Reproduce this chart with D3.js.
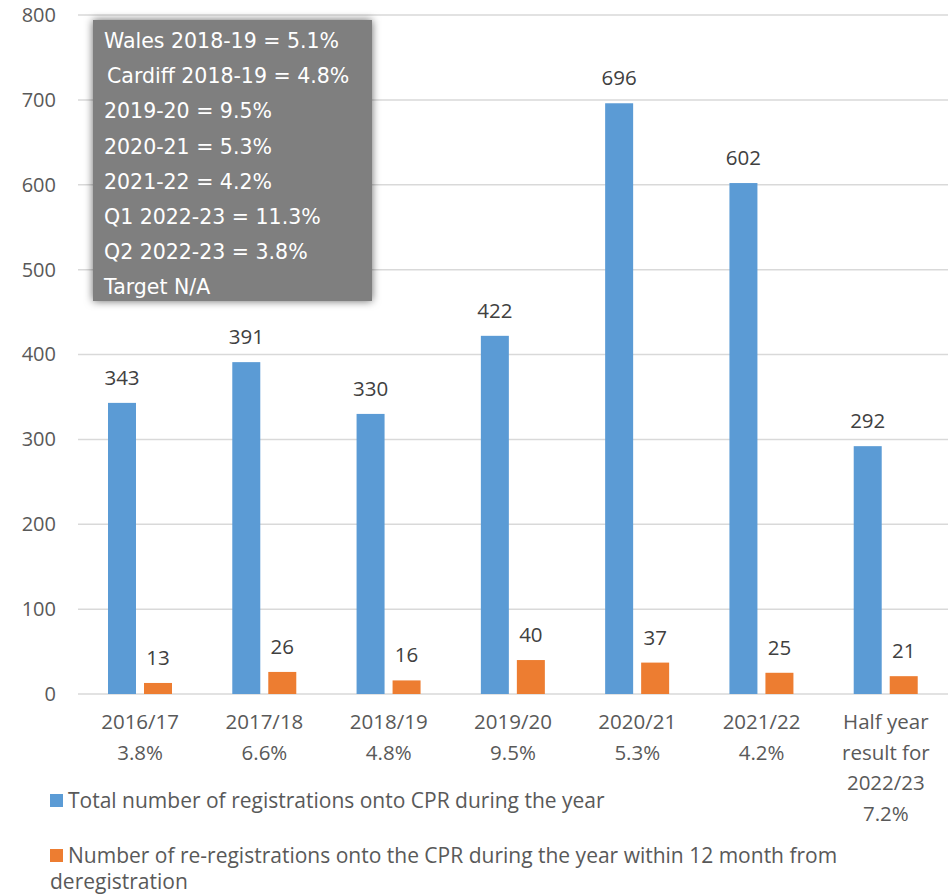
<!DOCTYPE html>
<html>
<head>
<meta charset="utf-8">
<script src="https://cdn.jsdelivr.net/npm/d3@7"></script>
<style>
  body { margin: 0; background: #fff; }
  text { font-family: "Open Sans", "Noto Sans", sans-serif; }
</style>
</head>
<body>
<script>
// chart data
var categories = [
  ["2016/17", "3.8%"],
  ["2017/18", "6.6%"],
  ["2018/19", "4.8%"],
  ["2019/20", "9.5%"],
  ["2020/21", "5.3%"],
  ["2021/22", "4.2%"],
  ["Half year", "result for", "2022/23", "7.2%"]
];
var totalRegs = [343, 391, 330, 422, 696, 602, 292];
var reRegs = [13, 26, 16, 40, 37, 25, 21];
var yTicks = [0, 100, 200, 300, 400, 500, 600, 700, 800];
var seriesNames = ["Total number of registrations onto CPR during the year",
  "Number of re-registrations onto the CPR during the year within 12 month from",
  "deregistration"];
var seriesColors = ["#5b9bd5", "#ed7d31"];
var boxLines = ["Wales 2018-19 = 5.1%", "Cardiff 2018-19 = 4.8%", "2019-20 = 9.5%",
  "2020-21 = 5.3%", "2021-22 = 4.2%", "Q1 2022-23 = 11.3%", "Q2 2022-23 = 3.8%", "Target N/A"];

var Chart = function() {
  this.width = 948;
  this.height = 894;
  this.plotLeft = 78;
  this.plotRight = 948;
  this.plotTop = 15;
  this.plotBottom = 694;
}

Chart.prototype.draw = function() {
  var self = this;
  var svg = d3.select("body").append("svg")
      .attr("width", this.width)
      .attr("height", this.height);

  var defs = svg.append("defs");
  var f = defs.append("filter").attr("id", "shadow")
      .attr("x", "-10%").attr("y", "-10%").attr("width", "120%").attr("height", "120%");
  f.append("feGaussianBlur").attr("in", "SourceAlpha").attr("stdDeviation", 4).attr("result", "blur");
  f.append("feFlood").attr("flood-color", "#000").attr("flood-opacity", 0.6);
  f.append("feComposite").attr("in2", "blur").attr("operator", "in");
  var fm = f.append("feMerge");
  fm.append("feMergeNode");
  fm.append("feMergeNode").attr("in", "SourceGraphic");

  var y = d3.scaleLinear().domain([0, 800]).range([this.plotBottom, this.plotTop]);
  var x = d3.scaleBand().domain(d3.range(categories.length)).range([this.plotLeft, this.plotRight]);
  var x1 = d3.scaleBand().domain([0, 1]).range([30, 94]).paddingInner(2 / 9);

  // gridlines
  svg.append("g").selectAll("line")
    .data(yTicks)
    .enter().append("line")
      .attr("x1", this.plotLeft).attr("x2", this.plotRight)
      .attr("y1", function(d) { return y(d); })
      .attr("y2", function(d) { return y(d); })
      .attr("stroke", "#d9d9d9")
      .attr("stroke-width", 1.5);

  // y axis labels
  var yAxis = svg.append("g")
      .attr("transform", "translate(" + (this.plotLeft - 22) + ",0)")
      .call(d3.axisLeft(y).tickValues(yTicks).tickSize(0).tickPadding(0));
  yAxis.select(".domain").remove();
  yAxis.selectAll("text")
      .attr("fill", "#595959")
      .style("font-family", "'Open Sans', sans-serif")
      .style("font-size", "20px");

  // bars + value labels
  [totalRegs, reRegs].forEach(function(vals, s) {
    var g = svg.append("g");
    g.selectAll("rect")
      .data(vals)
      .enter().append("rect")
        .attr("x", function(d, i) { return x(i) + x1(s); })
        .attr("y", function(d) { return y(d); })
        .attr("width", x1.bandwidth())
        .attr("height", function(d) { return self.plotBottom - y(d); })
        .attr("fill", seriesColors[s]);
    g.selectAll("text")
      .data(vals)
      .enter().append("text")
        .attr("x", function(d, i) { return x(i) + x1(s) + x1.bandwidth() / 2; })
        .attr("y", function(d) { return y(d) - 18; })
        .attr("text-anchor", "middle")
        .attr("fill", "#404040")
        .style("font-size", "20.5px")
        .text(function(d) { return d; });
  });

  // x labels
  var xl = svg.append("g").selectAll("text")
    .data(categories)
    .enter().append("text")
      .attr("x", function(d, i) { return x(i) + x.bandwidth() / 2; })
      .attr("y", 729)
      .attr("text-anchor", "middle")
      .attr("fill", "#595959")
      .style("font-family", "'Liberation Sans Narrow', 'Open Sans', sans-serif")
      .style("font-size", "20.5px");
  xl.selectAll("tspan")
    .data(function(d) { return d; })
    .enter().append("tspan")
      .attr("x", function() { return d3.select(this.parentNode).attr("x"); })
      .attr("dy", function(d, i) { return i ? 30.5 : 0; })
      .text(function(d) { return d; });

  // legend
  var leg = svg.append("g").attr("fill", "#595959").style("font-size", "21px");
  leg.append("rect").attr("x", 50).attr("y", 794).attr("width", 13).attr("height", 13).attr("fill", seriesColors[0]);
  leg.append("text").attr("x", 68).attr("y", 808).text(seriesNames[0]);
  leg.append("rect").attr("x", 50).attr("y", 849).attr("width", 13).attr("height", 13).attr("fill", seriesColors[1]);
  leg.append("text").attr("x", 68).attr("y", 863).text(seriesNames[1]);
  leg.append("text").attr("x", 50).attr("y", 889).text(seriesNames[2]);

  // annotation box
  var box = svg.append("g");
  box.append("rect")
      .attr("x", 93).attr("y", 20).attr("width", 279).attr("height", 281)
      .attr("fill", "#7f7f7f")
      .attr("filter", "url(#shadow)");
  box.selectAll("text")
    .data(boxLines)
    .enter().append("text")
      .attr("x", function(d, i) { return i === 1 ? 107 : 104; })
      .attr("y", function(d, i) { return 48 + i * 35.2; })
      .attr("fill", "#fff")
      .style("font-family", "'DejaVu Sans', sans-serif")
      .style("font-size", "20.5px")
      .text(function(d) { return d; });
}

var chart = new Chart();
chart.draw();
</script>
</body>
</html>
